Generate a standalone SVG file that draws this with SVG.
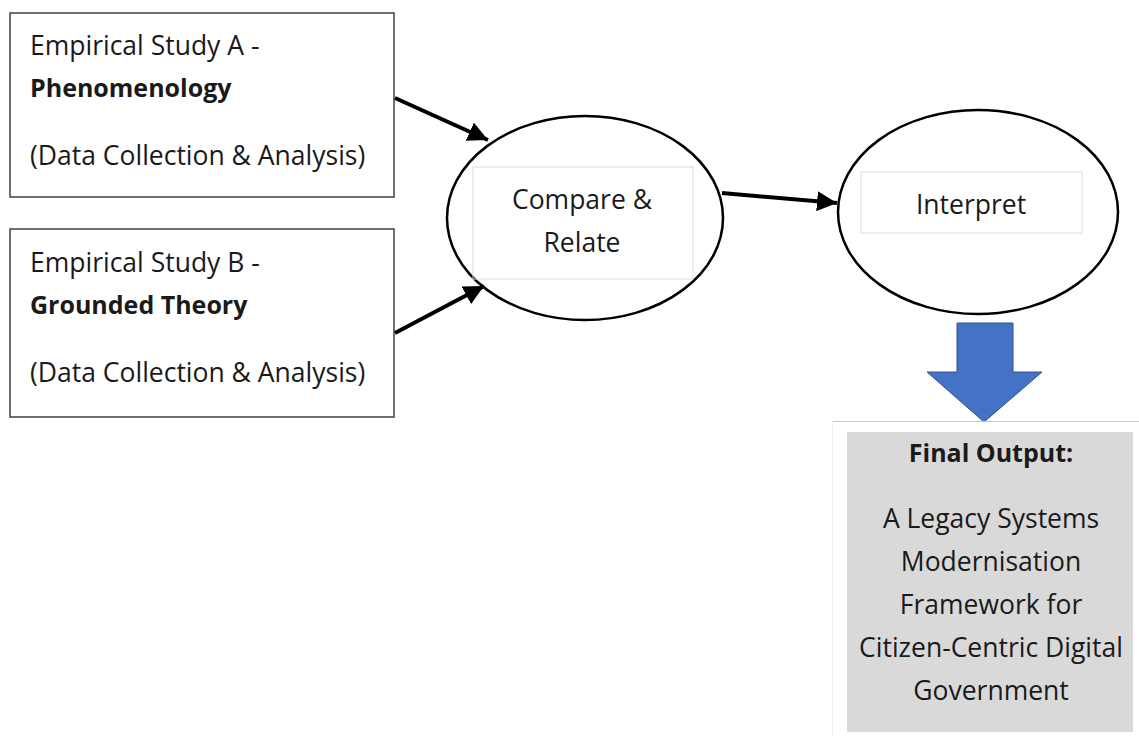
<svg xmlns="http://www.w3.org/2000/svg" width="1139" height="736" viewBox="0 0 1139 736">
<style>
.t{font-family:"Open Sans",Lato,"Liberation Sans",sans-serif;font-size:26.5px;fill:#1a1a1a}
.b{font-weight:bold;font-size:25px}
.c{text-anchor:middle}
.box{fill:#fff;stroke:#404040;stroke-width:1.5}
.ell{fill:#fff;stroke:#000;stroke-width:2.5}
.inner{fill:none;stroke:#dcdcdc;stroke-width:1}
.conn{stroke:#000;stroke-width:4;fill:none}
</style>
<defs>
<marker id="ah" viewBox="0 0 10 10" refX="10" refY="5" markerWidth="5" markerHeight="5" markerUnits="strokeWidth" orient="auto">
<path d="M0,0 L10,5 L0,10 z" fill="#000"/>
</marker>
</defs>
<rect width="1139" height="736" fill="#fff"/>
<g id="studyA">
<rect class="box" x="10" y="13" width="384" height="184"/>
<text class="t" x="30" y="55">Empirical Study A -</text>
<text class="t b" x="30" y="97">Phenomenology</text>
<text class="t" x="30" y="165">(Data Collection &amp; Analysis)</text>
</g>
<g id="studyB">
<rect class="box" x="10" y="229" width="384" height="188"/>
<text class="t" x="30" y="272">Empirical Study B -</text>
<text class="t b" x="30" y="314">Grounded Theory</text>
<text class="t" x="30" y="382">(Data Collection &amp; Analysis)</text>
</g>
<g id="compare">
<ellipse class="ell" cx="585" cy="218" rx="138" ry="102"/>
<rect class="inner" x="473" y="167" width="220" height="112"/>
<text class="t c" x="582" y="209">Compare &amp;</text>
<text class="t c" x="582" y="252">Relate</text>
</g>
<g id="interpret">
<ellipse class="ell" cx="978" cy="212" rx="140" ry="102"/>
<rect class="inner" x="861" y="172" width="221" height="61"/>
<text class="t c" x="971" y="214">Interpret</text>
</g>
<g id="connectors">
<line class="conn" x1="395" y1="98" x2="488" y2="140" marker-end="url(#ah)"/>
<line class="conn" x1="395" y1="333" x2="484" y2="286" marker-end="url(#ah)"/>
<line class="conn" x1="722" y1="193" x2="837" y2="203" marker-end="url(#ah)"/>
<polygon points="957,323 1013,323 1013,372 1042,372 984,422 927,372 957,372" fill="#4472C4" stroke="#2F528F" stroke-width="1"/>
</g>
<g id="final">
<line x1="832" y1="421.5" x2="1139" y2="421.5" stroke="#c8c8c8" stroke-width="1"/>
<line x1="832.5" y1="421" x2="832.5" y2="736" stroke="#eeeeee" stroke-width="1"/>
<rect x="847" y="432" width="286" height="300" fill="#d9d9d9"/>
<text class="t b c" x="991" y="462">Final Output:</text>
<text class="t c" x="991" y="528">A Legacy Systems</text>
<text class="t c" x="991" y="571">Modernisation</text>
<text class="t c" x="991" y="614">Framework for</text>
<text class="t c" x="991" y="657">Citizen-Centric Digital</text>
<text class="t c" x="991" y="700">Government</text>
</g>
</svg>
